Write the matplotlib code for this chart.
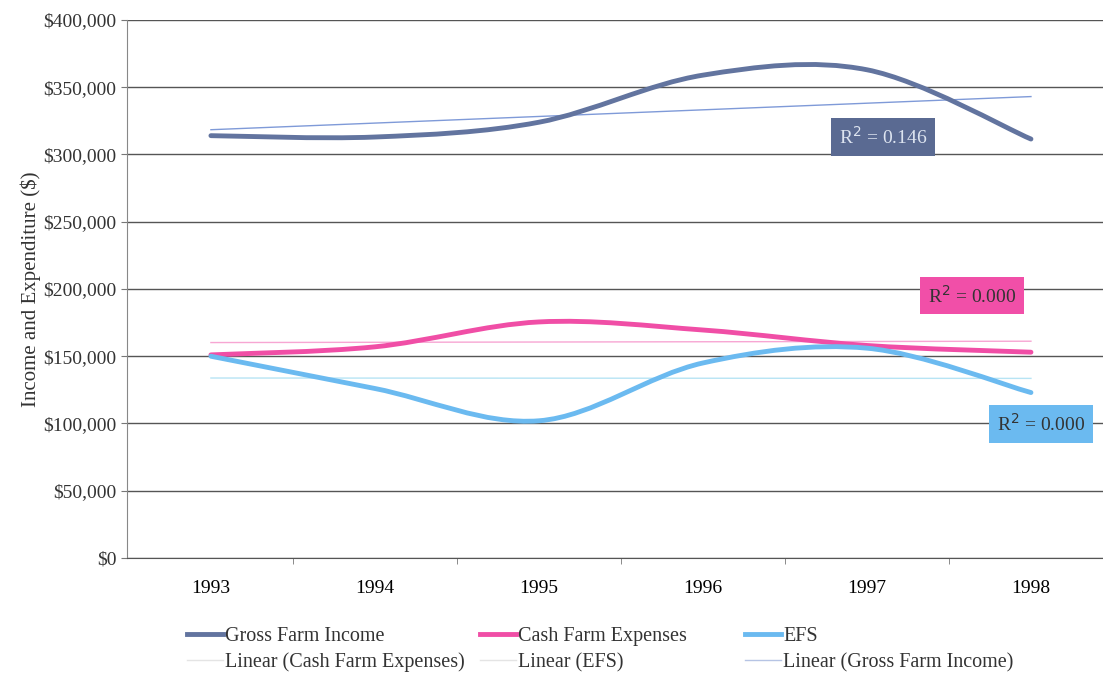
import numpy as np
import matplotlib.pyplot as plt
from matplotlib.path import Path
from matplotlib.patches import PathPatch
from matplotlib.lines import Line2D
from matplotlib.ticker import FuncFormatter

years = ["1993", "1994", "1995", "1996", "1997", "1998"]
gross_income = [314000, 313000, 324000, 359000, 363000, 311500]
cash_expenses = [151000, 157000, 175500, 169500, 158000, 153000]
efs = [150000, 126000, 102000, 145000, 156000, 123000]
r2_labels = ["R$^2$ = 0.146", "R$^2$ = 0.000", "R$^2$ = 0.000"]

GROSS_C = "#62749f"
CASH_C = "#f04ea6"
EFS_C = "#6bbaf0"

plt.rcParams['font.family'] = ['Liberation Serif', 'DejaVu Serif']


def smooth_path(xs, ys):
    # Catmull-Rom style bezier through the points, like a spreadsheet "smoothed line"
    pts = np.column_stack([xs, ys]).astype(float)
    verts = [pts[0]]
    codes = [Path.MOVETO]
    n = len(pts)
    for i in range(n - 1):
        p0 = pts[i - 1] if i > 0 else pts[i]
        p1 = pts[i]
        p2 = pts[i + 1]
        p3 = pts[i + 2] if i + 2 < n else pts[i + 1]
        c1 = p1 + (p2 - p0) / 6.0
        c2 = p2 - (p3 - p1) / 6.0
        verts += [c1, c2, p2]
        codes += [Path.CURVE4] * 3
    return Path(verts, codes)


def main():
    fig = plt.figure(figsize=(11.03, 6.76), dpi=100)
    ax = fig.add_axes([0.1151, 0.1746, 0.885, 0.7958])
    x = np.arange(len(years))

    ax.set_xlim(-0.512, 5.44)
    ax.set_ylim(0, 400000)
    ax.set_yticks(np.arange(0, 400001, 50000))
    ax.yaxis.set_major_formatter(FuncFormatter(lambda v, p: "${:,.0f}".format(v)))
    ax.grid(axis='y', color="#555555", linewidth=1.0)
    ax.set_axisbelow(True)
    for side in ["top", "right"]:
        ax.spines[side].set_visible(False)
    ax.spines["left"].set_color("#888888")
    ax.spines["bottom"].set_color("#555555")
    ax.set_xticks(x)
    ax.set_xticklabels(years, fontsize=14)
    ax.tick_params(axis='x', length=0, pad=16)
    ax.set_xticks(np.arange(0.5, 5.0, 1.0), minor=True)
    ax.tick_params(axis='x', which='minor', length=4, color="#777777")
    ax.tick_params(axis='y', labelsize=14, length=4, color="#777777", labelcolor="#333333")
    ax.set_ylabel("Income and Expenditure ($)", fontsize=15, color="#333333", labelpad=2)

    series = [
        ("Gross Farm Income", gross_income, GROSS_C, "#7f9ad8", "#5a6a92", "#dde4f0"),
        ("Cash Farm Expenses", cash_expenses, CASH_C, "#f7a6d3", "#f14fa8", "#333333"),
        ("EFS", efs, EFS_C, "#b7e4f4", "#6bbaf0", "#333333"),
    ]
    main_handles = []
    for (name, vals, color, tcolor, _, _) in series:
        patch = PathPatch(smooth_path(x, vals), facecolor="none", edgecolor=color,
                          linewidth=3.5, capstyle="round", zorder=3)
        ax.add_patch(patch)
        coef = np.polyfit(x, vals, 1)
        ax.plot(x, np.polyval(coef, x), color=tcolor, linewidth=1.0, zorder=2)
        main_handles.append(Line2D([], [], color=color, linewidth=3.5))

    # R-squared boxes next to each trendline
    box_pos = [(4.10, 313000), (4.64, 195000), (5.06, 99600)]
    for (s, lab, pos) in zip(series, r2_labels, box_pos):
        ax.text(pos[0], pos[1], lab, fontsize=14, color=s[5], ha="center", va="center",
                zorder=5, clip_on=False,
                bbox=dict(boxstyle="square,pad=0.4", facecolor=s[4], edgecolor="none"))

    trend_handles = [Line2D([], [], color="#e4e4e4", linewidth=1.0),
                     Line2D([], [], color="#e4e4e4", linewidth=1.0),
                     Line2D([], [], color="#b6c4e4", linewidth=1.0)]
    trend_labels = ["Linear (Cash Farm Expenses)", "Linear (EFS)",
                    "Linear (Gross Farm Income)"]
    main_labels = ["Gross Farm Income", "Cash Farm Expenses", "EFS"]
    col_x = [0.162, 0.428, 0.668]
    for i in range(3):
        fig.legend([main_handles[i], trend_handles[i]], [main_labels[i], trend_labels[i]],
                   loc="lower left", bbox_to_anchor=(col_x[i], -0.006),
                   ncol=1, frameon=False, fontsize=14.5, handlelength=1.8,
                   handletextpad=0.1, labelspacing=0.32, borderaxespad=0.0,
                   labelcolor="#333333")

    fig.savefig("out.png", dpi=100)


if __name__ == "__main__":
    main()
